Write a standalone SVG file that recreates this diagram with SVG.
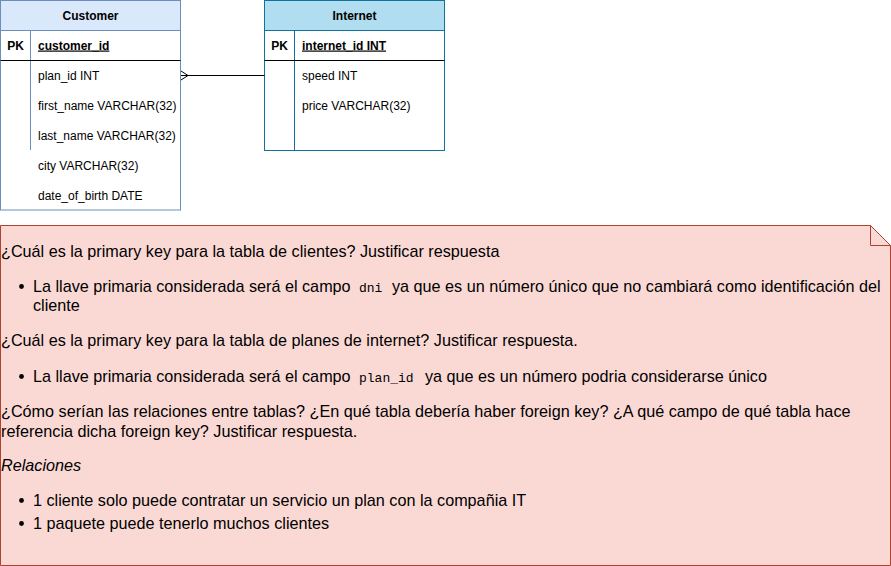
<svg xmlns="http://www.w3.org/2000/svg" width="891" height="566" viewBox="0 0 891 566">
<style>
.t{font-family:"Liberation Sans",Arial,Helvetica,sans-serif;font-size:12px;fill:#000}
.b{font-weight:bold}
.u{text-decoration:underline}
.n{font-family:"Liberation Sans",Arial,Helvetica,sans-serif;font-size:16.2px;fill:#000}
.m{font-family:"Liberation Mono","DejaVu Sans Mono",monospace;font-size:13px;fill:#000}
.blue{stroke:#6c8ebf;fill:none}
.teal{stroke:#10739e;fill:none}
.blk{stroke:#000;fill:none}
</style>
<g id="customer">
<rect x="0.5" y="0.5" width="180" height="209.5" fill="#ffffff" stroke="#6c8ebf"/>
<rect x="0.5" y="0.5" width="180" height="30" fill="#dae8fc" stroke="#6c8ebf"/>
<line x1="30.5" y1="30.5" x2="30.5" y2="150" class="blue"/>
<line x1="0.5" y1="60.5" x2="180.5" y2="60.5" class="blk"/>
<text x="90.5" y="19.5" text-anchor="middle" class="t b">Customer</text>
<text x="15.5" y="49.5" text-anchor="middle" class="t b">PK</text>
<text x="38" y="49.5" class="t b u">customer_id</text>
<text x="38" y="79.5" class="t">plan_id INT</text>
<text x="38" y="109.5" class="t">first_name VARCHAR(32)</text>
<text x="38" y="139.5" class="t">last_name VARCHAR(32)</text>
<text x="38" y="169.5" class="t">city VARCHAR(32)</text>
<text x="38" y="199.5" class="t">date_of_birth DATE</text>
</g>
<g id="internet">
<rect x="264.5" y="0.5" width="180" height="150" fill="#ffffff" stroke="#10739e"/>
<rect x="264.5" y="0.5" width="180" height="30" fill="#b1ddf0" stroke="#10739e"/>
<line x1="294.5" y1="30.5" x2="294.5" y2="150.5" class="teal"/>
<line x1="264.5" y1="60.5" x2="444.5" y2="60.5" class="blk"/>
<text x="354.5" y="19.5" text-anchor="middle" class="t b">Internet</text>
<text x="279.5" y="49.5" text-anchor="middle" class="t b">PK</text>
<text x="302" y="49.5" class="t b u">internet_id INT</text>
<text x="302" y="79.5" class="t">speed INT</text>
<text x="302" y="109.5" class="t">price VARCHAR(32)</text>
</g>
<g id="connectors">
<path d="M181,75.5 H264.5" class="blk"/>
<path d="M181,71 L188,75.5 L181,80" class="blk"/>
</g>
<g id="note">
<path d="M0.5,225.5 H870.5 L890.5,245.5 V565.5 H0.5 Z" fill="#fad9d5" stroke="#ae4132"/>
<path d="M870.5,225.5 V245.5 H890.5" fill="none" stroke="#ae4132"/>
<text x="1" y="257" class="n">¿Cuál es la primary key para la tabla de clientes? Justificar respuesta</text>
<circle cx="21.5" cy="286.5" r="2.4" fill="#000"/>
<text x="33" y="292" class="n">La llave primaria considerada será el campo</text>
<text x="359" y="292" class="m">dni</text>
<text x="392" y="292" class="n">ya que es un número único que no cambiará como identificación del</text>
<text x="33" y="311" class="n">cliente</text>
<text x="1" y="346" class="n">¿Cuál es la primary key para la tabla de planes de internet? Justificar respuesta.</text>
<circle cx="21.5" cy="376.5" r="2.4" fill="#000"/>
<text x="33" y="382" class="n">La llave primaria considerada será el campo</text>
<text x="359" y="382" class="m">plan_id</text>
<text x="425" y="382" class="n">ya que es un número podria considerarse único</text>
<text x="1" y="417" class="n" font-size="16px">¿Cómo serían las relaciones entre tablas? ¿En qué tabla debería haber foreign key? ¿A qué campo de qué tabla hace</text>
<text x="1" y="437" class="n">referencia dicha foreign key? Justificar respuesta.</text>
<text x="1" y="471" class="n" font-style="italic">Relaciones</text>
<circle cx="21.5" cy="500.5" r="2.4" fill="#000"/>
<text x="33" y="506" class="n">1 cliente solo puede contratar un servicio un plan con la compañia IT</text>
<circle cx="21.5" cy="523.5" r="2.4" fill="#000"/>
<text x="33" y="529" class="n">1 paquete puede tenerlo muchos clientes</text>
</g>
</svg>
